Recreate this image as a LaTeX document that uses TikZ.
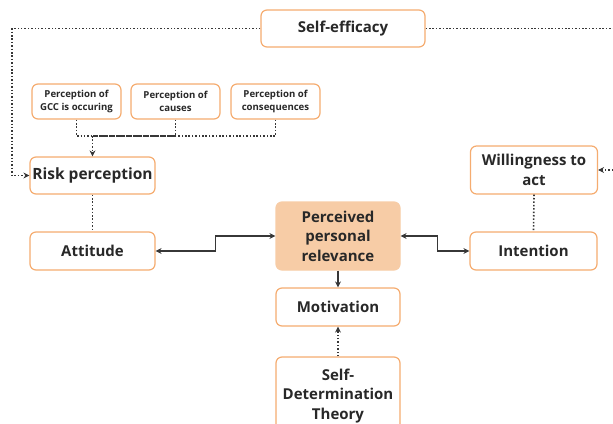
\documentclass[tikz,border=0pt]{standalone}
\usepackage{fontspec}
\setmainfont{Open Sans}
\usetikzlibrary{arrows.meta}
\definecolor{boxline}{RGB}{245,172,112}
\definecolor{boxfill}{RGB}{247,204,166}
\definecolor{ink}{RGB}{40,40,40}
\definecolor{wire}{RGB}{55,55,55}
\begin{document}
\begin{tikzpicture}[x=1pt,y=-1pt,
  box/.style={draw=boxline,line width=1.2pt,rounded corners=6pt,fill=white,
    text=ink,align=center,inner sep=0pt,font=\fontsize{15}{19.5}\selectfont\bfseries},
  smallbox/.style={box,minimum width=89pt,minimum height=35pt,
    font=\fontsize{9.6}{12.5}\selectfont\bfseries},
  hilite/.style={box,fill=boxfill,draw=boxfill},
  dots/.style={draw=wire,line width=1.6pt,dash pattern=on 1.5pt off 1.9pt},
  link/.style={draw=wire,line width=1.3pt},
  tip/.style={-{Stealth[length=6pt,width=6pt]}},
  tips/.style={{Stealth[length=6pt,width=6pt]}-{Stealth[length=6pt,width=6pt]}}]
\useasboundingbox (0,0) rectangle (613,423);
% boxes
\node[box,minimum width=164pt,minimum height=37pt] (eff) at (343,28.5) {Self-efficacy};
\node[smallbox] (gcc) at (76.5,101.5) {Perception of\\GCC is occuring};
\node[smallbox] (cause) at (175.5,101.5) {Perception of\\causes};
\node[smallbox] (conseq) at (275.5,101.5) {Perception of\\consequences};
\node[box,minimum width=125pt,minimum height=37pt,font=\fontsize{15.5}{19.5}\selectfont\bfseries] (risk) at (92.5,175.5) {Risk perception};
\node[box,minimum width=125pt,minimum height=38pt] (att) at (92.5,251) {Attitude};
\node[hilite,minimum width=124pt,minimum height=68pt] (ppr) at (338,236) {Perceived\\personal\\relevance};
\node[box,minimum width=127pt,minimum height=48pt] (will) at (534,170) {Willingness to\\act};
\node[box,minimum width=127pt,minimum height=38pt] (intent) at (533.5,251) {Intention};
\node[box,minimum width=124pt,minimum height=38pt] (motiv) at (338,307) {Motivation};
\node[box,minimum width=124pt,minimum height=78pt] (sdt) at (338,396) {Self-\\Determination\\Theory};
% dotted links
\coordinate (effend) at (613,28.5);
\coordinate (willend) at (613,170);
\coordinate (meet) at (92.5,136);
\draw[dots,tip] (eff.west) -- (12,28.5) |- (risk.west);
\draw[dots] (eff.east) -- (effend);
\draw[dots,tip] (willend) -- (will.east);
\draw[dots] (gcc.south) |- (meet);
\draw[dots] (cause.south) |- (meet);
\draw[dots] (conseq.south) |- (meet);
\draw[dots,tip] (meet) -- (risk.north);
\draw[dots] (risk.south) -- (att.north);
\draw[dots] (will.south) -- (intent.north);
\draw[dots,tip] (sdt.north) -- (motiv.south);
% solid links
\draw[link,tips] (att.east) -- ++(60,0) |- (ppr.west);
\draw[link,tips] (ppr.east) -- ++(37,0) |- (intent.west);
\draw[link,tip] (ppr.south) -- (motiv.north);
\end{tikzpicture}
\end{document}
